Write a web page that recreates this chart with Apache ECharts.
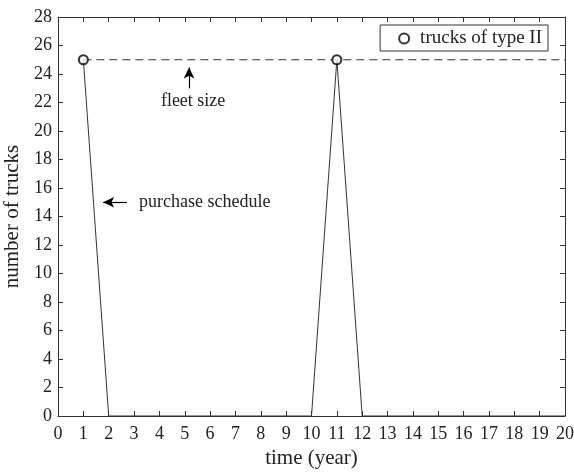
<!DOCTYPE html>
<html>
<head>
<meta charset="utf-8">
<script src="https://cdn.jsdelivr.net/npm/echarts@6/dist/echarts.min.js"></script>
<style>html,body{margin:0;padding:0;background:#fff}#c{width:574px;height:472px}</style>
</head>
<body>
<div id="c"></div>
<script>
var years = [1,2,3,4,5,6,7,8,9,10,11,12,13,14,15,16,17,18,19,20];
var purchase = [25,0,0,0,0,0,0,0,0,0,25,0,0,0,0,0,0,0,0,0];
var typeIIYears = [1, 11];
var typeIIValues = [25, 25];
var fleetYears = [1, 20];
var fleetValues = [25, 25];
var xTicks = {min: 0, max: 20, interval: 1};
var yTicks = {min: 0, max: 28, interval: 2};

var FONT = '"Liberation Serif", "Times New Roman", serif';
var TXT = '#222';
var AX = '#333';

function pairs(xs, ys){ return xs.map(function(x,i){ return [x, ys[i]]; }); }

var chart = echarts.init(document.getElementById('c'), null, {renderer:'canvas'});
var axisCommon = {
  axisLine:{show:true, onZero:false, lineStyle:{color:AX, width:1}},
  axisTick:{show:true, inside:true, length:5, lineStyle:{color:AX, width:1}},
  splitLine:{show:false}
};
chart.setOption({
  animation:false,
  grid:{left:58, right:9, top:17, bottom:56, containLabel:false, outerBoundsMode:'none'},
  legend:{
    right:26, top:25, orient:'horizontal',
    data:[{name:'trucks of type II', icon:'emptyCircle'}],
    itemWidth:10, itemHeight:10, itemGap:10,
    borderColor:AX, borderWidth:1, borderRadius:0,
    padding:[4, 6, 3, 18],
    textStyle:{fontFamily:FONT, fontSize:19, color:TXT, padding:[0,0,0,6]}
  },
  xAxis:[
    Object.assign({type:'value', position:'bottom', min:xTicks.min, max:xTicks.max, interval:xTicks.interval,
      name:'time (year)', nameLocation:'middle', nameGap:30,
      nameTextStyle:{fontFamily:FONT, fontSize:21, color:TXT},
      axisLabel:{fontFamily:FONT, fontSize:18, color:TXT, margin:9}}, axisCommon),
    Object.assign({type:'value', position:'top', min:xTicks.min, max:xTicks.max, interval:xTicks.interval,
      axisLabel:{show:false}}, axisCommon)
  ],
  yAxis:[
    Object.assign({type:'value', position:'left', min:yTicks.min, max:yTicks.max, interval:yTicks.interval,
      name:'number of trucks', nameLocation:'middle', nameGap:26,
      nameTextStyle:{fontFamily:FONT, fontSize:21, color:TXT},
      axisLabel:{fontFamily:FONT, fontSize:18, color:TXT, margin:6}}, axisCommon),
    Object.assign({type:'value', position:'right', min:yTicks.min, max:yTicks.max, interval:yTicks.interval,
      axisLabel:{show:false}}, axisCommon)
  ],
  series:[
    {
      name:'purchase schedule', type:'line', data:pairs(years, purchase),
      symbol:'none', lineStyle:{color:'#333', width:1}, z:3,
      markLine:{
        silent:true, symbol:['none','arrow'], symbolSize:[8,11],
        lineStyle:{color:'#000', width:1.2, type:'solid'}, label:{show:false},
        data:[[{coord:[2.72,15.0]},{coord:[1.78,15.0]}]]
      },
      markPoint:{
        silent:true, symbol:'circle', symbolSize:0,
        label:{show:true, position:'inside', fontFamily:FONT, fontSize:18, color:TXT, align:'left'},
        data:[{coord:[3.2,15.0], value:'purchase schedule', label:{formatter:'purchase schedule'}}]
      }
    },
    {
      name:'fleet size', type:'line', data:pairs(fleetYears, fleetValues),
      symbol:'none', lineStyle:{color:'#333', width:1.1, type:[8,5]}, z:2,
      markLine:{
        silent:true, symbol:['none','arrow'], symbolSize:[8,11],
        lineStyle:{color:'#000', width:1.2, type:'solid'}, label:{show:false},
        data:[[{coord:[5.17,23.0]},{coord:[5.17,24.45]}]]
      },
      markPoint:{
        silent:true, symbol:'circle', symbolSize:0,
        label:{show:true, position:'inside', fontFamily:FONT, fontSize:18, color:TXT},
        data:[{coord:[5.33,22.1], value:'fleet size', label:{formatter:'fleet size'}}]
      }
    },
    {
      name:'trucks of type II', type:'scatter', data:pairs(typeIIYears, typeIIValues),
      symbol:'emptyCircle', symbolSize:9,
      itemStyle:{color:'#000', borderColor:'#000', borderWidth:1.2}, z:5
    }
  ]
});
</script>
</body>
</html>
